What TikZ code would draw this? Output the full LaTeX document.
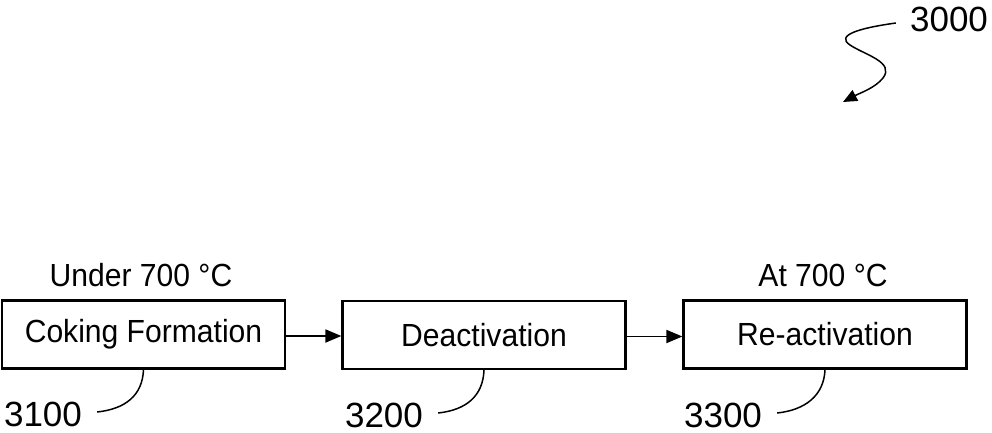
\documentclass[tikz,border=0pt]{standalone}
\usepackage{fontspec}
\setmainfont{Liberation Sans}
\newfontfamily\narrowsans{Liberation Sans}[FakeStretch=0.94]
\usetikzlibrary{arrows.meta}
\begin{document}
\begin{tikzpicture}[x=1pt,y=-1pt,
  stepbox/.style={draw, line width=2.2pt, minimum width=283pt, minimum height=68pt,
    inner sep=0pt, font=\narrowsans\fontsize{32}{38}\selectfont},
  note/.style={inner sep=0pt, font=\narrowsans\fontsize{32}{38}\selectfont},
  refnum/.style={inner sep=0pt, font=\fontsize{35}{40}\selectfont},
  flow/.style={line width=1.8pt, -{Triangle[length=16pt,width=13pt]}},
  leader/.style={line width=1.5pt}]
\useasboundingbox (0,0) rectangle (992,433);

% process steps
\node[stepbox] (b1) at (143.5,334.5) {Coking Formation};
\node[stepbox] (b2) at (484,335) {Deactivation};
\node[stepbox] (b3) at (825,334.5) {Re-activation};

% temperature notes
\node[note] (t1) at (141,275) {Under 700 °C};
\node[note] (t3) at (823,275) {At 700 °C};

% flow arrows
\draw[flow] ([yshift=-1.5]b1.east) -- ([yshift=-1.5]b1.east -| b2.west);
\draw[flow] ([yshift=-1.5]b2.east) -- ([yshift=-1.5]b2.east -| b3.west);

% reference numerals
\node[refnum] (l1) at (43,414) {3100};
\node[refnum] (l2) at (384,415) {3200};
\node[refnum] (l3) at (723,415) {3300};
\node[refnum] (n3000) at (949,19) {3000};

\draw[leader] (b1.south) .. controls +(-1,26) and +(28,-3) .. ([shift={(15,-2)}]l1.east);
\draw[leader] (b2.south) .. controls +(-1,26) and +(28,-3) .. ([shift={(15,-2)}]l2.east);
\draw[leader] (b3.south) .. controls +(-1,26) and +(28,-3) .. ([shift={(15,-2)}]l3.east);

% figure reference arrow
\coordinate (tip3000) at (843,102);
\draw[leader, -{Triangle[length=14pt,width=12pt]}]
  ([shift={(-14,4)}]n3000.west) .. controls (860,28) and (835,35) .. (850,45)
  .. controls (865,55) and (895,62) .. (883,78)
  .. controls (875,88) and (860,93) .. (tip3000);
\end{tikzpicture}
\end{document}
